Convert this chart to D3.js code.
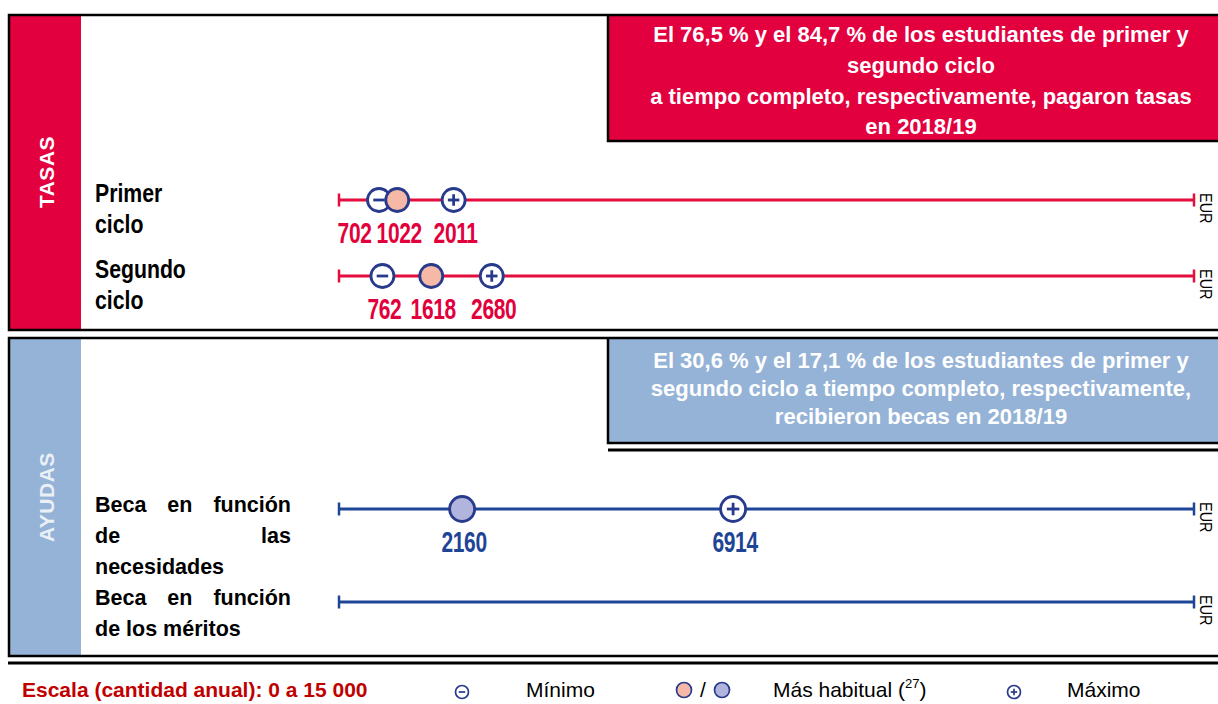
<!DOCTYPE html>
<html>
<head>
<meta charset="utf-8">
<script src="https://cdn.jsdelivr.net/npm/d3@7"></script>
<style>
  body { margin: 0; background: #fff; }
  svg { display: block; font-family: "Liberation Sans", Arial, sans-serif; }
</style>
</head>
<body>
<svg id="chart" width="1218" height="704"></svg>
<script>
// ---- data ----
const sections = ["TASAS", "AYUDAS"];
const sectionNotes = [
  ["El 76,5 % y el 84,7 % de los estudiantes de primer y", "segundo ciclo",
   "a tiempo completo, respectivamente, pagaron tasas", "en 2018/19"],
  ["El 30,6 % y el 17,1 % de los estudiantes de primer y",
   "segundo ciclo a tiempo completo, respectivamente,", "recibieron becas en 2018/19"]
];
const rowNames = [
  ["Primer", "ciclo"],
  ["Segundo", "ciclo"],
  ["Beca en función", "de las", "necesidades"],
  ["Beca en función", "de los méritos"]
];
const rowSection = [0, 0, 1, 1];
const minValues = [702, 762, null, null];
const typicalValues = [1022, 1618, 2160, null];
const maxValues = [2011, 2680, 6914, null];
const scaleRange = [0, 15000];
const unitLabel = "EUR";
const legendLabels = ["Escala (cantidad anual): 0 a 15 000", "Mínimo", "Más habitual (", "27", ")", "Máximo"];

// ---- colours / layout ----
const sectionFill = ["#e2003f", "#95b3d7"];
const lineColor = ["#e30d3e", "#1f4597"];
const labelColor = ["#e2003c", "#1e4495"];
const markFill = ["#f6b9a7", "#b1b4dd"];
const navy = "#283a8c";

const svg = d3.select("#chart");

const x = d3.scaleLinear().domain(scaleRange).range([339, 1194]);
const rowY = [200, 276, 509, 602];

const panels = [
  { top: 15, bottom: 330, noteBottom: 141, noteBase: [42, 73, 104, 134], labelY: 172 },
  { top: 338, bottom: 656, noteBottom: 443, noteBase: [368, 396, 424], labelY: 497 }
];

// panels, side bands, notes
panels.forEach((p, i) => {
  const g = svg.append("g");
  g.append("rect")
    .attr("x", 9).attr("y", p.top)
    .attr("width", 72).attr("height", p.bottom - p.top)
    .attr("fill", sectionFill[i]);

  g.append("rect")
    .attr("x", 608).attr("y", p.top)
    .attr("width", 640).attr("height", p.noteBottom - p.top)
    .attr("fill", sectionFill[i]);
  g.append("path")
    .attr("d", `M608,${p.top} V${p.noteBottom} H1240`)
    .attr("fill", "none").attr("stroke", "#000").attr("stroke-width", 2.5);

  g.append("rect")
    .attr("x", 9).attr("y", p.top)
    .attr("width", 1240).attr("height", p.bottom - p.top)
    .attr("fill", "none").attr("stroke", "#000").attr("stroke-width", 2.5);

  g.append("text")
    .attr("transform", `translate(46,${p.labelY}) rotate(-90)`)
    .attr("text-anchor", "middle")
    .attr("dy", "0.36em")
    .attr("fill", "#fff")
    .attr("fill-opacity", i === 0 ? 1 : 0.82)
    .attr("font-size", 21)
    .attr("font-weight", "bold")
    .attr("letter-spacing", 0.5)
    .text(sections[i]);

  g.selectAll(".note")
    .data(sectionNotes[i])
    .join("text")
    .attr("x", 921)
    .attr("y", (d, j) => p.noteBase[j])
    .attr("text-anchor", "middle")
    .attr("fill", "#fff")
    .attr("font-size", 22)
    .attr("font-weight", "bold")
    .text(d => d);
});

// extra rules under the blue note and under the panels
svg.append("line").attr("x1", 608).attr("x2", 1240).attr("y1", 450).attr("y2", 450)
  .attr("stroke", "#000").attr("stroke-width", 3);
svg.append("line").attr("x1", 8).attr("x2", 1240).attr("y1", 663).attr("y2", 663)
  .attr("stroke", "#000").attr("stroke-width", 3);

// row labels
rowNames.forEach((lines, i) => {
  const tasas = rowSection[i] === 0;
  const g = svg.append("g");
  const fs = tasas ? 25 : 21.5;
  const sx = tasas ? 0.85 : 1;
  const base = rowY[i] + (tasas ? 2 : 3);
  lines.forEach((line, j) => {
    const y = base + j * 31;
    const words = line.split(" ");
    const justify = !tasas && j < lines.length - 1 && words.length > 1;
    if (!justify) {
      g.append("text")
        .attr("transform", `translate(95,${y}) scale(${sx},1)`)
        .attr("font-size", fs).attr("font-weight", "bold").attr("fill", "#000")
        .text(line);
      return;
    }
    const nodes = words.map(w => g.append("text")
      .attr("font-size", fs).attr("font-weight", "bold").attr("fill", "#000")
      .text(w));
    const widths = nodes.map(n => n.node().getComputedTextLength());
    const gap = (291 - 95 - d3.sum(widths)) / (words.length - 1);
    let cx = 95;
    nodes.forEach((n, k) => {
      n.attr("x", cx).attr("y", y);
      cx += widths[k] + gap;
    });
  });
});

// circle marker: min (minus), max (plus) or most usual (filled)
function marker(g, cx, cy, r, kind, s) {
  const sw = r > 8 ? 2.8 : 1.7;
  const m = g.append("g").attr("transform", `translate(${cx},${cy})`);
  m.append("circle").attr("r", r)
    .attr("fill", kind === "typ" ? markFill[s] : "#fff")
    .attr("stroke", navy).attr("stroke-width", sw);
  const h = r * 0.5;
  if (kind === "min" || kind === "max") {
    m.append("line").attr("x1", -h).attr("x2", h)
      .attr("stroke", navy).attr("stroke-width", sw);
  }
  if (kind === "max") {
    m.append("line").attr("y1", -h).attr("y2", h)
      .attr("stroke", navy).attr("stroke-width", sw);
  }
  return m;
}

// scale lines
rowY.forEach((y, i) => {
  const s = rowSection[i];
  const g = svg.append("g");
  g.append("line")
    .attr("x1", x(scaleRange[0])).attr("x2", x(scaleRange[1]))
    .attr("y1", y).attr("y2", y)
    .attr("stroke", lineColor[s]).attr("stroke-width", 3);
  scaleRange.forEach(v => {
    g.append("line")
      .attr("x1", x(v)).attr("x2", x(v))
      .attr("y1", y - 6.5).attr("y2", y + 6.5)
      .attr("stroke", lineColor[s]).attr("stroke-width", 2.5);
  });
  g.append("text")
    .attr("transform", `translate(1200,${y - 7}) rotate(90) scale(0.85,1)`)
    .attr("font-size", 17).attr("fill", "#000")
    .text(unitLabel);

  const r = s === 0 ? 11.5 : 12.5;
  const marks = [];
  if (minValues[i] != null) marks.push({ v: minValues[i], kind: "min" });
  if (maxValues[i] != null) marks.push({ v: maxValues[i], kind: "max" });
  if (typicalValues[i] != null) marks.push({ v: typicalValues[i], kind: "typ" });
  marks.forEach(d => marker(g, x(d.v), y, r, d.kind, s));

  // value labels, nudged left when they would overlap
  const sx = 0.7;
  const labs = marks.slice().sort((a, b) => a.v - b.v).map(d => {
    const t = g.append("text")
      .attr("text-anchor", "middle")
      .attr("font-size", 30).attr("font-weight", "bold")
      .attr("letter-spacing", -0.5)
      .attr("fill", labelColor[s])
      .text(d.v);
    const w = t.node().getComputedTextLength() * sx;
    return { t, cx: x(d.v) + 2, w };
  });
  for (let k = labs.length - 2; k >= 0; k--) {
    const right = labs[k].cx + labs[k].w / 2;
    const nextLeft = labs[k + 1].cx - labs[k + 1].w / 2;
    if (right + 5 > nextLeft) labs[k].cx -= right + 5 - nextLeft;
  }
  labs.forEach(l => l.t.attr("transform", `translate(${l.cx},${y + 43}) scale(${sx},1)`));
});

// legend
const leg = svg.append("g");
leg.append("text")
  .attr("x", 22).attr("y", 697)
  .attr("font-size", 21).attr("font-weight", "bold").attr("fill", "#c00000")
  .text(legendLabels[0]);
marker(leg, 462, 692, 6.5, "min", 0);
leg.append("text").attr("x", 526).attr("y", 697).attr("font-size", 21).text(legendLabels[1]);
marker(leg, 684, 690, 7.5, "typ", 0);
leg.append("text").attr("x", 703).attr("y", 697).attr("text-anchor", "middle")
  .attr("font-size", 21).text("/");
marker(leg, 722, 690, 7.5, "typ", 1);
const hab = leg.append("text").attr("x", 773).attr("y", 697).attr("font-size", 21);
hab.append("tspan").text(legendLabels[2]);
hab.append("tspan").attr("font-size", 13).attr("dy", -9).text(legendLabels[3]);
hab.append("tspan").attr("dy", 9).text(legendLabels[4]);
marker(leg, 1014, 692, 6.5, "max", 0);
leg.append("text").attr("x", 1067).attr("y", 697).attr("font-size", 21).text(legendLabels[5]);
</script>
</body>
</html>
